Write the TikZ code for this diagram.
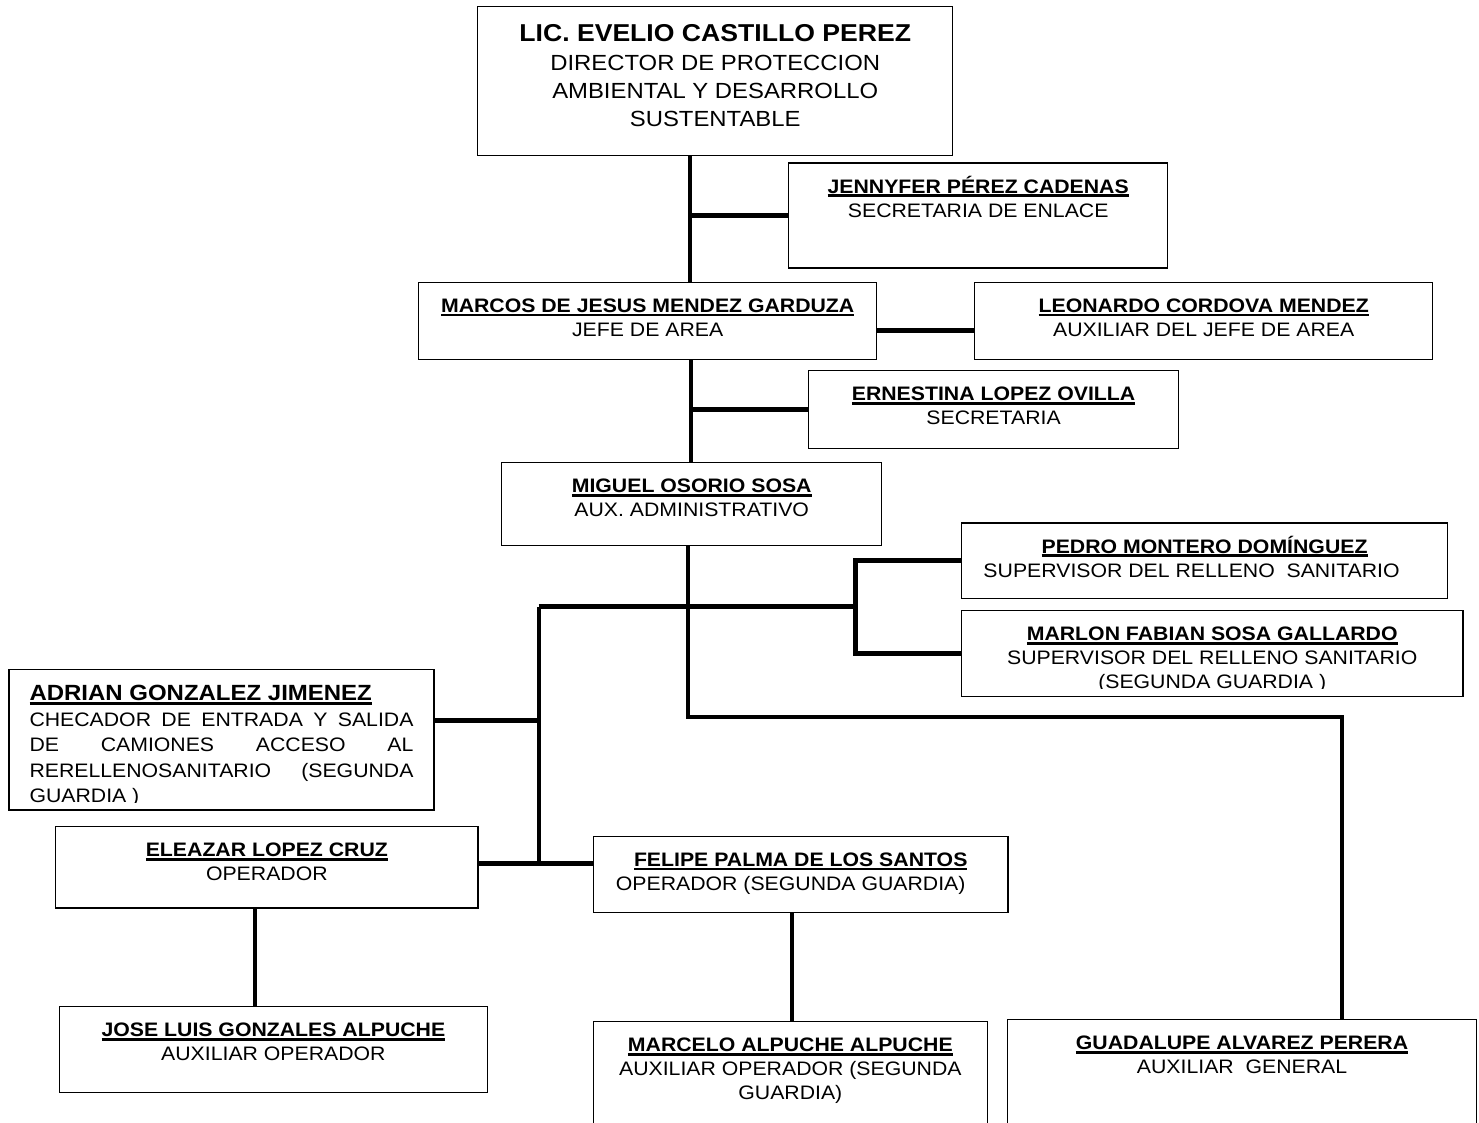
\documentclass[tikz,border=0pt]{standalone}
\usepackage{fontspec}
\setmainfont{Liberation Sans}[FakeStretch=1.09]
\newsavebox{\nmbox}
\newcommand{\nm}[1]{\sbox{\nmbox}{\bfseries #1}\rlap{\rule[-3.8pt]{\wd\nmbox}{2.6pt}}\usebox{\nmbox}}
\newcommand{\orgbox}[7][]{%
  \node[box, minimum width=#5pt, minimum height=#6pt,
    path picture={\clip ([yshift=8pt]path picture bounding box.south west) rectangle (path picture bounding box.north east);
      \node[txt,#1] at ([yshift=-10pt]path picture bounding box.north) {\rule{0pt}{1em}#7};}]
    (#2) at (#3,#4) {};}

\begin{document}
\begin{tikzpicture}[x=1pt, y=-1pt,
    box/.style={draw, line width=1.4pt, anchor=north west, inner sep=0pt},
    txt/.style={anchor=north, align=center, inner sep=0pt, minimum width=0pt, minimum height=0pt, font=\fontsize{19.5}{24}\selectfont},
    link/.style={line width=4.3pt},
    branch/.style={line width=5pt}]
        \useasboundingbox[fill=white] (0,0) rectangle (1479,1122);
        %
        \orgbox[font=\fontsize{21.9}{28}\selectfont, yshift=-1.8pt]{title}{477}{6}{475}{149}{{\fontsize{24.4}{28}\selectfont\bfseries LIC. EVELIO CASTILLO PEREZ}\\[1pt] DIRECTOR DE PROTECCION\\ AMBIENTAL Y DESARROLLO\\ SUSTENTABLE}
        \orgbox{jenny}{788}{162.3}{379}{105}{\nm{JENNYFER PÉREZ CADENAS}\\ SECRETARIA DE ENLACE}
        \orgbox{marcos}{418}{281.7}{458}{77}{\nm{MARCOS DE JESUS MENDEZ GARDUZA}\\ JEFE DE AREA}
        \orgbox{leonardo}{974}{281.7}{458}{77}{\nm{LEONARDO CORDOVA MENDEZ}\\ AUXILIAR DEL JEFE DE AREA}
        \orgbox{ernest}{808}{370}{369.7}{77.7}{\nm{ERNESTINA LOPEZ OVILLA}\\ SECRETARIA}
        \orgbox{miguel}{501}{462}{380}{83}{\nm{MIGUEL OSORIO SOSA}\\ AUX. ADMINISTRATIVO}
        \orgbox{pedro}{960.7}{522.3}{486.3}{75.4}{\nm{PEDRO MONTERO DOMÍNGUEZ}\\ SUPERVISOR DEL RELLENO\ \ SANITARIO\hspace*{26pt}}
        \orgbox{marlon}{960.7}{610}{501.6}{85.7}{\nm{MARLON FABIAN SOSA GALLARDO}\\ SUPERVISOR DEL RELLENO SANITARIO\\ (SEGUNDA GUARDIA )}
        \orgbox[align=left, font=\fontsize{19.5}{25.5}\selectfont, yshift=-1pt]{adrian}{8.3}{669}{425}{140.3}{{\fontsize{22}{25.5}\selectfont\nm{ADRIAN GONZALEZ JIMENEZ}}\\
          \makebox[384pt][s]{CHECADOR DE ENTRADA Y SALIDA}\\
          \makebox[384pt][s]{DE CAMIONES ACCESO AL}\\
          \makebox[384pt][s]{RERELLENOSANITARIO (SEGUNDA}\\
          GUARDIA )}
        \orgbox{eleazar}{55}{826}{422.3}{81.3}{\nm{ELEAZAR LOPEZ CRUZ}\\ OPERADOR}
        \orgbox{felipe}{592.7}{835.7}{414.6}{76}{\nm{FELIPE PALMA DE LOS SANTOS}\\ OPERADOR (SEGUNDA GUARDIA)\hspace*{20pt}}
        \orgbox{jose}{58.6}{1006}{428.2}{85.7}{\nm{JOSE LUIS GONZALES ALPUCHE}\\ AUXILIAR OPERADOR}
        \orgbox{marcelo}{592.6}{1021}{394.1}{130}{\nm{MARCELO ALPUCHE ALPUCHE}\\ AUXILIAR OPERADOR (SEGUNDA\\ GUARDIA)}
        \orgbox{guad}{1006.7}{1019}{469.3}{130}{\nm{GUADALUPE ALVAREZ PERERA}\\ AUXILIAR\ \ GENERAL}
        %
        \coordinate (topline) at (690,0);
        \coordinate (midline) at (691,0);
        \coordinate (elbowL) at (688,716.7);
        \coordinate (elbowR) at (1342,716.7);
        \coordinate (busL) at (538.7,606.7);
        \coordinate (busR) at (855,606.7);
        \coordinate (busB) at (538.7,863.3);
        \coordinate (adrianY) at (0,720);
        \coordinate (joseX) at (255.2,0);
        \coordinate (marceloX) at (792,0);
        %
        \draw [link] (title.south -| topline) -- (marcos.north -| topline);
        \draw [branch] (jenny.west) -- (jenny.west -| topline);
        \draw [branch] ([yshift=-10pt]marcos.east) -- ([yshift=-10pt]leonardo.west);
        \draw [link] (marcos.south -| midline) -- (miguel.north -| midline);
        \draw [branch] (ernest.west) -- (ernest.west -| midline);
        %
        \draw [link] (miguel.south -| elbowL) -- (elbowL) -- (elbowR) -- (guad.north -| elbowR);
        \draw [branch] (busL) -- (busR);
        \draw [branch] (pedro.west) -- (pedro.west -| busR) -- (marlon.west -| busR) -- (marlon.west);
        \draw [link] (busL) -- (busB);
        \draw [branch] (adrian.east |- adrianY) -- (busL |- adrianY);
        \draw [branch] (eleazar.east |- busB) -- (felipe.west |- busB);
        %
        \draw [link] (eleazar.south -| joseX) -- (jose.north -| joseX);
        \draw [link] (felipe.south -| marceloX) -- (marcelo.north -| marceloX);
      \end{tikzpicture}
\end{document}
